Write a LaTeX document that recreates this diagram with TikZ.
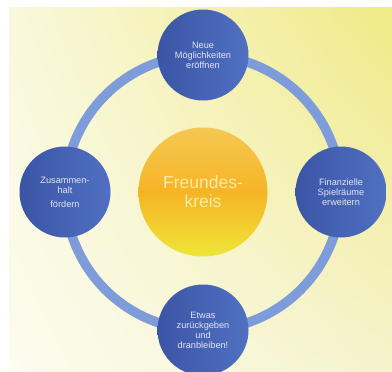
\documentclass[tikz,border=0pt]{standalone}
\usepackage{fontspec}
\setmainfont{Liberation Sans}
\usetikzlibrary{backgrounds,shadings}

\definecolor{bluedark}{HTML}{3B55A6}
\definecolor{bluelight}{HTML}{5070C2}
\definecolor{ringblue}{HTML}{7D9CD9}
\definecolor{textgrey}{HTML}{E2E5F2}
\definecolor{sunTop}{HTML}{F5C852}
\definecolor{sunMid}{HTML}{F6B425}
\definecolor{sunBot}{HTML}{EEE638}
\definecolor{sunText}{HTML}{FAEBA8}
\definecolor{bgUL}{HTML}{F9F8DC}
\definecolor{bgUR}{HTML}{F0EA86}
\definecolor{bgLL}{HTML}{FCFCF0}
\definecolor{bgLR}{HTML}{F5F3CC}

\begin{document}
\begin{tikzpicture}
[
    x=1pt, y=-1pt,
    aspect/.style={circle, minimum size=91pt, inner sep=0pt,
        left color=bluedark, right color=bluelight,
        text=textgrey, align=center,
        font=\fontsize{9.2}{10}\selectfont},
    hub/.style={circle, minimum size=129pt, inner sep=0pt,
        top color=sunTop, bottom color=sunBot, middle color=sunMid,
        text=sunText, align=center,
        font=\fontsize{17.5}{19}\selectfont},
    ring/.style={draw=ringblue, line width=9.5pt},
]
\useasboundingbox (0,0) rectangle (392,372);
\node [hub] (kreis) at (203,192) {Freundes-\\kreis};
\node [aspect] (neu) at (203,55) {Neue\\Möglichkeiten\\eröffnen};
\node [aspect] (geld) at (341,192) {Finanzielle\\Spielräume\\erweitern};
\node [aspect] (geben) at (203,330) {Etwas\\zurückgeben\\und\\dranbleiben!};
\node [aspect] (halt) at (65,192) {Zusammen-\\halt\\[4pt]fördern};
\begin{scope}[on background layer]
\shade [upper left=bgUL, upper right=bgUR, lower left=bgLL, lower right=bgLR]
    (9,7) rectangle (392,372);
\draw [ring] (neu.center) to[bend left=45] (geld.center)
    to[bend left=45] (geben.center)
    to[bend left=45] (halt.center)
    to[bend left=45] (neu.center);
\end{scope}
\end{tikzpicture}
\end{document}
